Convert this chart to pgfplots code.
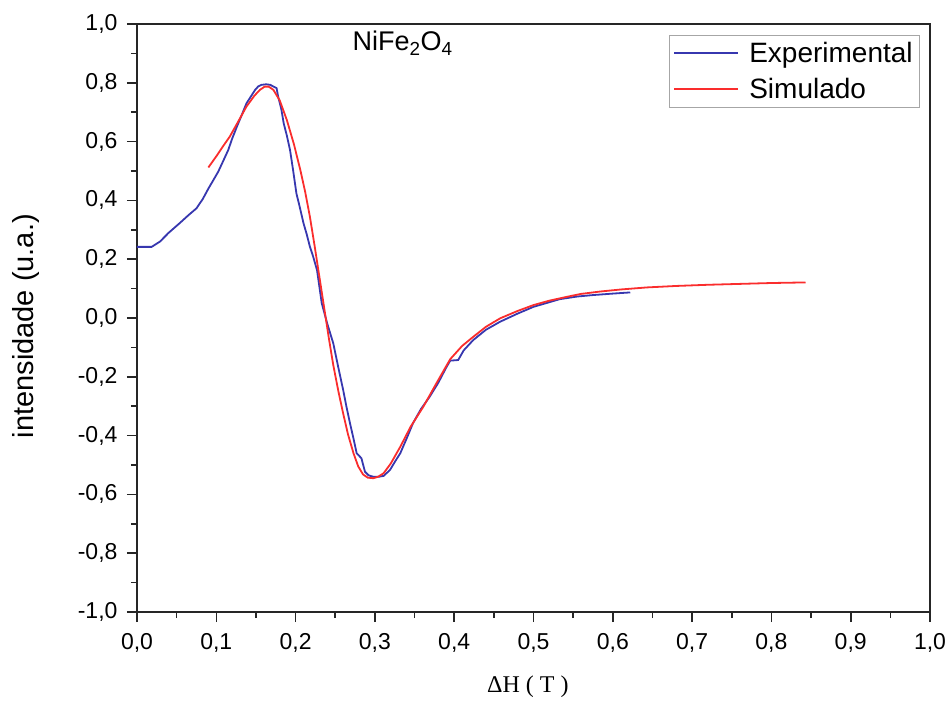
\documentclass[border=0pt]{standalone}
\usepackage{fontspec}
\setmainfont{Liberation Sans}
\newfontfamily\seriffont{Liberation Serif}
\usepackage{pgfplots}
\pgfplotsset{compat=1.18}

\definecolor{expblue}{RGB}{55,55,175}
\definecolor{simred}{RGB}{250,45,45}

\pgfplotsset{
  longline legend/.style={legend image code/.code={\draw[#1] (0pt,0pt) -- (64pt,0pt);}},
}

\pgfplotstableread{
x y
0 0.242
0.0185 0.242
0.029 0.26
0.04 0.29
0.054 0.323
0.065 0.35
0.075 0.373
0.083 0.405
0.09 0.44
0.0965 0.47
0.1025 0.498
0.108 0.53
0.115 0.571
0.12 0.61
0.126 0.651
0.132 0.69
0.138 0.73
0.144 0.755
0.149 0.776
0.153 0.788
0.157 0.793
0.163 0.795
0.168 0.793
0.176 0.782
0.178 0.753
0.182 0.71
0.185 0.662
0.189 0.62
0.193 0.571
0.197 0.5
0.201 0.424
0.205 0.38
0.21 0.322
0.214 0.285
0.218 0.243
0.222 0.21
0.227 0.163
0.233 0.05
0.24 -0.02
0.2475 -0.086
0.254 -0.17
0.26 -0.245
0.264 -0.3
0.2686 -0.358
0.273 -0.41
0.277 -0.46
0.283 -0.477
0.2875 -0.523
0.292 -0.535
0.298 -0.54
0.305 -0.54
0.311 -0.537
0.319 -0.517
0.325 -0.49
0.332 -0.46
0.34 -0.41
0.348 -0.358
0.358 -0.31
0.369 -0.268
0.38 -0.22
0.39 -0.168
0.395 -0.145
0.405 -0.143
0.412 -0.11
0.424 -0.075
0.44 -0.04
0.458 -0.0125
0.48 0.015
0.50 0.038
0.533 0.064
0.555 0.073
0.575 0.078
0.6 0.083
0.622 0.087
}\expdata

\pgfplotstableread{
x y
0.09 0.512
0.1 0.55
0.11 0.59
0.117 0.617
0.128 0.67
0.138 0.719
0.148 0.756
0.155 0.776
0.161 0.787
0.166 0.787
0.172 0.776
0.18 0.74
0.189 0.673
0.198 0.59
0.206 0.503
0.212 0.43
0.218 0.345
0.224 0.245
0.23 0.14
0.236 0.035
0.242 -0.07
0.2475 -0.16
0.254 -0.25
0.26 -0.325
0.266 -0.395
0.273 -0.46
0.279 -0.505
0.285 -0.532
0.291 -0.543
0.298 -0.545
0.304 -0.54
0.311 -0.528
0.32 -0.495
0.332 -0.438
0.345 -0.37
0.361 -0.302
0.378 -0.22
0.395 -0.14
0.41 -0.095
0.424 -0.064
0.44 -0.03
0.458 -0.001
0.48 0.024
0.50 0.044
0.52 0.059
0.542 0.072
0.56 0.082
0.584 0.09
0.61 0.097
0.643 0.104
0.68 0.109
0.72 0.113
0.76 0.116
0.80 0.119
0.843 0.121
}\simdata

\begin{document}
\begin{tikzpicture}
\begin{axis}[
  scale only axis,
  width=793pt, height=588pt,
  xmin=0, xmax=1, ymin=-1, ymax=1,
  xtick={0,0.1,0.2,0.3,0.4,0.5,0.6,0.7,0.8,0.9,1.0},
  ytick={-1,-0.8,-0.6,-0.4,-0.2,0,0.2,0.4,0.6,0.8,1.0},
  minor x tick num=1, minor y tick num=1,
  tick align=outside,
  xtick pos=bottom, ytick pos=left,
  major tick length=10pt, minor tick length=6pt,
  every tick/.style={black!85, line width=1.6pt},
  axis line style={black!85, line width=1.6pt},
  tick label style={font=\fontsize{23}{26}\selectfont},
  xticklabel style={yshift=-8pt},
  yticklabel style={xshift=-6pt},
  /pgf/number format/.cd, use comma, fixed, fixed zerofill, precision=1, assume math mode=true,
  /pgfplots/.cd,
  xlabel={\seriffont ΔH ( T )},
  x label style={at={(axis description cs:0.493,0)}, anchor=center, yshift=-75pt, font=\fontsize{24}{28}\selectfont},
  ylabel={intensidade (u.a.)},
  y label style={at={(axis description cs:-0.14,0.486)}, anchor=center, font=\fontsize{29}{32}\selectfont},
  longline legend,
  legend style={at={(rel axis cs:0.986,0.981)}, anchor=north east, draw=gray!70,
    font=\fontsize{28}{30}\selectfont, inner xsep=4pt, inner ysep=5pt, row sep=10pt,
    cells={anchor=west}, /tikz/every odd column/.append style={column sep=8pt}},
]
\addplot[expblue, line width=1.8pt] table[x=x,y=y] {\expdata};
\addlegendentry{Experimental}
\addplot[simred, line width=1.8pt] table[x=x,y=y] {\simdata};
\addlegendentry{Simulado}
\node[font=\fontsize{27}{30}\selectfont] at (axis cs:0.335,0.935) {NiFe\textsubscript{2}O\textsubscript{4}};
\end{axis}
\pgfresetboundingbox
\path[use as bounding box] (-137pt,-92pt) rectangle (812pt,612pt);
\end{tikzpicture}
\end{document}
